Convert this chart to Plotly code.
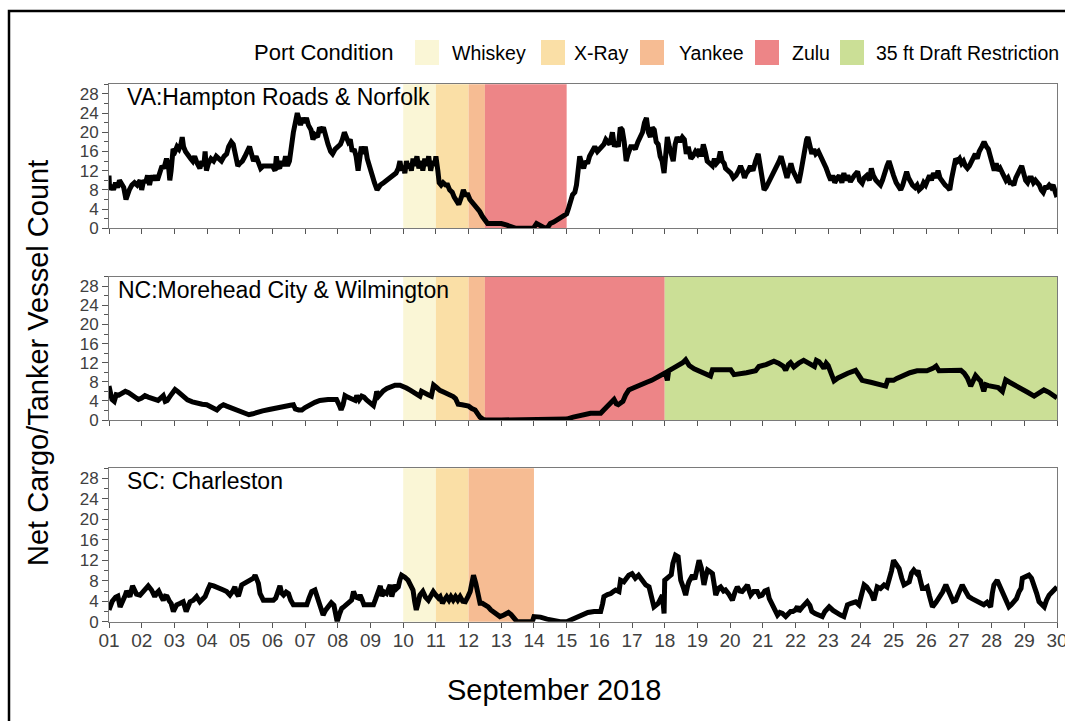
import plotly.graph_objects as go

# ---------------------------------------------------------------------------
# Net cargo/tanker vessel counts, September 2018 (day-of-month, vessel count)
# ---------------------------------------------------------------------------
va_day = [1.00, 1.02, 1.08, 1.14, 1.20, 1.26, 1.32, 1.38, 1.45, 1.52, 1.56, 1.62, 1.70, 1.78, 1.86, 1.95,
          2.00, 2.06, 2.12, 2.18, 2.24, 2.30, 2.36, 2.42, 2.48, 2.56, 2.62, 2.68, 2.76, 2.82, 2.86, 2.90,
          2.96, 3.02, 3.08, 3.14, 3.20, 3.24, 3.28, 3.34, 3.42, 3.50, 3.56, 3.62, 3.70, 3.78, 3.84, 3.90,
          3.94, 3.98, 4.04, 4.12, 4.20, 4.28, 4.36, 4.44, 4.52, 4.60, 4.66, 4.74, 4.80, 4.86, 4.94, 5.00,
          5.08, 5.16, 5.24, 5.30, 5.36, 5.42, 5.50, 5.58, 5.64, 5.72, 5.80, 5.90, 6.00, 6.08, 6.12, 6.16,
          6.22, 6.28, 6.34, 6.40, 6.46, 6.52, 6.58, 6.64, 6.70, 6.76, 6.80, 6.86, 6.92, 6.98, 7.04, 7.10,
          7.18, 7.24, 7.30, 7.38, 7.44, 7.50, 7.56, 7.62, 7.70, 7.78, 7.84, 7.92, 8.00, 8.08, 8.14, 8.20,
          8.26, 8.32, 8.38, 8.44, 8.50, 8.56, 8.62, 8.66, 8.72, 8.78, 8.84, 8.90, 8.96, 9.04, 9.12, 9.20,
          9.30, 9.40, 9.50, 9.60, 9.70, 9.78, 9.85, 9.90, 9.95, 10.00, 10.05, 10.10, 10.15, 10.20, 10.25,
          10.30, 10.35, 10.42, 10.48, 10.55, 10.60, 10.66, 10.72, 10.78, 10.84, 10.90, 10.96, 11.00, 11.06,
          11.10, 11.16, 11.22, 11.30, 11.36, 11.42, 11.50, 11.56, 11.62, 11.70, 11.78, 11.84, 11.90, 11.98,
          12.04, 12.10, 12.18, 12.26, 12.34, 12.42, 12.50, 12.58, 12.70, 12.85, 13.00, 13.15, 13.30, 13.45,
          13.60, 13.80, 13.98, 14.08, 14.20, 14.30, 14.40, 14.50, 14.60, 14.70, 14.80, 14.90, 15.00, 15.05,
          15.12, 15.18, 15.25, 15.30, 15.35, 15.40, 15.46, 15.52, 15.58, 15.64, 15.70, 15.78, 15.86, 15.94,
          16.00, 16.06, 16.14, 16.20, 16.26, 16.32, 16.40, 16.46, 16.52, 16.58, 16.64, 16.70, 16.76, 16.82,
          16.88, 16.96, 17.04, 17.10, 17.18, 17.26, 17.32, 17.38, 17.44, 17.50, 17.56, 17.62, 17.68, 17.74,
          17.80, 17.86, 17.92, 17.98, 18.02, 18.08, 18.14, 18.20, 18.26, 18.32, 18.38, 18.46, 18.54, 18.60,
          18.66, 18.72, 18.80, 18.86, 18.94, 19.00, 19.06, 19.12, 19.18, 19.24, 19.30, 19.38, 19.46, 19.52,
          19.58, 19.64, 19.70, 19.76, 19.82, 19.86, 19.94, 20.02, 20.10, 20.18, 20.26, 20.32, 20.38, 20.44,
          20.50, 20.56, 20.62, 20.70, 20.78, 20.86, 20.92, 20.98, 21.04, 21.10, 21.18, 21.26, 21.34, 21.42,
          21.50, 21.56, 21.62, 21.68, 21.74, 21.80, 21.86, 21.92, 21.98, 22.04, 22.10, 22.16, 22.22, 22.28,
          22.34, 22.38, 22.44, 22.50, 22.56, 22.62, 22.70, 22.78, 22.86, 22.94, 23.02, 23.08, 23.14, 23.20,
          23.28, 23.34, 23.42, 23.48, 23.54, 23.60, 23.68, 23.74, 23.80, 23.90, 23.96, 24.04, 24.10, 24.18,
          24.26, 24.32, 24.38, 24.46, 24.54, 24.60, 24.66, 24.74, 24.80, 24.86, 24.92, 25.00, 25.08, 25.16,
          25.22, 25.28, 25.34, 25.40, 25.46, 25.52, 25.58, 25.66, 25.72, 25.78, 25.86, 25.92, 25.98, 26.04,
          26.10, 26.16, 26.22, 26.30, 26.36, 26.42, 26.50, 26.58, 26.66, 26.72, 26.78, 26.84, 26.90, 26.96,
          27.02, 27.08, 27.14, 27.20, 27.26, 27.32, 27.38, 27.44, 27.50, 27.56, 27.62, 27.70, 27.77, 27.84,
          27.90, 27.96, 28.02, 28.08, 28.14, 28.20, 28.26, 28.32, 28.38, 28.44, 28.50, 28.56, 28.62, 28.68,
          28.74, 28.80, 28.86, 28.92, 28.98, 29.04, 29.10, 29.16, 29.22, 29.28, 29.34, 29.40, 29.46, 29.52,
          29.58, 29.64, 29.70, 29.76, 29.82, 29.88, 29.94, 30.00]
va_count = [11, 8, 9, 8, 9.5, 8.5, 10, 9, 8.5, 6, 7, 8, 9, 9.5, 9, 10,
            8, 10, 9.5, 11, 9, 11, 10, 11, 10, 12, 13, 12.5, 14.5, 13, 10, 12,
            16.5, 16, 17, 16.5, 17.5, 19, 17, 16, 15, 14.5, 14, 15, 13.5, 12.5, 14, 13,
            16, 12, 13.5, 14.5, 14, 15, 14.5, 14, 15, 15.5, 17, 18, 17.5, 15, 13, 13.5,
            14, 15, 16, 17, 15.5, 14, 15, 13.5, 12.5, 13, 13, 13, 13, 12, 15, 13,
            12.5, 14, 13, 15, 13, 14, 18, 20, 22, 24, 23, 21.5, 23, 22, 23, 21.5,
            20.5, 18.5, 19.5, 19, 21, 20.5, 21, 19, 17.5, 16, 15.5, 16.5, 17, 17.5, 18.5, 20,
            19, 18, 18.5, 16, 16.5, 15, 12, 15, 17, 15.5, 17, 14.5, 13, 11, 9.5, 8,
            9, 9.5, 10, 10.5, 11, 11.5, 12.5, 14, 12, 13, 11.5, 14, 12.5, 13.5, 12,
            14.5, 13, 15, 12.5, 14, 12, 14.5, 13, 15, 12, 14, 13, 15, 12,
            9.5, 9, 9.5, 9, 9, 8, 7.5, 6.5, 6, 5, 6.5, 8, 7, 7,
            6, 5.5, 5, 4.5, 3.5, 2.5, 1.5, 1, 1, 1, 1, 0.7, 0.3, 0,
            0, 0, 0, 1, 0.5, 0.2, 0, 1, 1.3, 1.7, 2.2, 2.5, 3, 4,
            5.5, 7, 7.5, 9, 12, 15, 13.5, 12.5, 14, 13.5, 15, 16, 17, 16,
            16.5, 17, 17.5, 18.5, 18, 17.5, 20, 17, 18, 17, 21, 20.5, 18, 14,
            15.5, 17, 17, 16.5, 18, 19, 20, 22, 23, 20, 19, 21, 20.5, 18,
            17.5, 15, 14, 11.5, 16, 19, 17, 15, 14, 17.5, 19, 18, 19, 18.5,
            15.5, 17, 14.5, 15, 16, 15.5, 16.5, 15, 17.5, 16, 14, 13.5, 13, 14.5,
            13.5, 14, 16, 14, 13.5, 12.5, 12, 11.5, 10.5, 11, 12, 13, 12, 10.5,
            11.5, 12, 13, 12, 14, 15.5, 13, 10.5, 8, 8.5, 9.5, 10.5, 11.5, 13,
            14, 15, 13.5, 12, 10.5, 12, 13.5, 12, 11, 10.5, 9.5, 11.5, 14, 16,
            18.5, 19, 17, 15.5, 16.5, 15.5, 16, 15, 14, 12.5, 11, 10, 11, 9.5,
            10.5, 11, 9.5, 11.5, 10, 11, 9.7, 10.5, 11, 11.8, 10, 9.4, 10.5, 11,
            10, 12.5, 11, 10, 9.5, 9, 10, 12, 13, 14, 12.5, 11, 9.5, 8.5,
            8, 9, 10.5, 11.8, 10.5, 9.5, 9, 8.5, 9, 8, 8.5, 9.5, 9, 10,
            11, 10, 11.5, 10.5, 12, 10.5, 9.5, 9, 8.5, 8, 10.5, 13, 14.5, 14,
            14.5, 13.5, 14, 13, 12.5, 13, 14, 15, 15.5, 14.5, 16, 17, 18, 17,
            16.5, 15, 13.5, 12, 13.5, 12, 12.5, 11.5, 11, 10, 10.5, 9.5, 9.5, 9,
            10.5, 11.5, 12.5, 13, 11.5, 10, 9.5, 10.5, 10.5, 9.5, 10, 9.5, 9, 8,
            7.5, 8.5, 8.5, 9, 8.5, 9, 8, 6.5]

nc_day = [1.00, 1.05, 1.09, 1.16, 1.22, 1.30, 1.40, 1.50, 1.60, 1.74, 1.90, 2.00, 2.10, 2.20, 2.30,
          2.40, 2.50, 2.58, 2.66, 2.72, 2.78, 2.87, 2.95, 3.02, 3.10, 3.20, 3.30, 3.40, 3.55, 3.70,
          3.85, 3.99, 4.10, 4.20, 4.30, 4.40, 4.50, 4.60, 4.75, 4.90, 5.05, 5.20, 5.28, 5.40, 5.55,
          5.70, 5.90, 6.10, 6.23, 6.40, 6.55, 6.64, 6.70, 6.80, 6.90, 7.00, 7.15, 7.30, 7.45, 7.56,
          7.70, 7.85, 7.96, 8.05, 8.10, 8.16, 8.22, 8.30, 8.37, 8.45, 8.53, 8.58, 8.65, 8.73, 8.80,
          8.88, 8.96, 9.04, 9.09, 9.15, 9.19, 9.25, 9.32, 9.39, 9.50, 9.60, 9.75, 9.90, 10.00, 10.10,
          10.20, 10.30, 10.41, 10.51, 10.56, 10.65, 10.76, 10.86, 10.93, 11.02, 11.12, 11.25, 11.40,
          11.53, 11.60, 11.68, 11.80, 11.90, 12.00, 12.10, 12.20, 12.28, 12.35, 12.45, 12.52, 13.00,
          13.50, 14.00, 14.50, 14.90, 15.00, 15.20, 15.40, 15.55, 15.73, 15.90, 16.04, 16.12, 16.20,
          16.30, 16.40, 16.45, 16.52, 16.58, 16.66, 16.72, 16.80, 16.90, 17.00, 17.15, 17.30, 17.45,
          17.60, 17.75, 17.88, 17.95, 18.02, 18.08, 18.12, 18.25, 18.44, 18.55, 18.64, 18.75, 18.90,
          19.10, 19.30, 19.40, 19.46, 19.70, 20.02, 20.12, 20.30, 20.50, 20.78, 20.88, 21.10, 21.34,
          21.48, 21.62, 21.70, 21.78, 21.85, 21.95, 22.10, 22.25, 22.40, 22.50, 22.58, 22.64, 22.72,
          22.80, 22.87, 22.94, 23.00, 23.10, 23.18, 23.30, 23.43, 23.60, 23.84, 23.94, 24.04, 24.30,
          24.55, 24.76, 24.82, 25.00, 25.10, 25.27, 25.50, 25.72, 26.02, 26.20, 26.30, 26.39, 26.70,
          27.06, 27.16, 27.26, 27.36, 27.46, 27.51, 27.60, 27.66, 27.76, 27.82, 27.90, 28.07, 28.20,
          28.33, 28.43, 28.55, 28.70, 28.90, 29.10, 29.30, 29.45, 29.60, 29.75, 29.90, 30.00]
nc_count = [7.1, 5.5, 4.3, 3.9, 5.3, 5.2, 5.6, 6.0, 5.7, 5.0, 4.3, 4.6, 5.1, 4.8, 4.6,
            4.3, 4.1, 4.6, 5.1, 3.9, 4.1, 5.0, 5.6, 6.4, 6.0, 5.5, 4.8, 4.2, 3.8, 3.5,
            3.3, 3.2, 2.9, 2.5, 2.1, 2.8, 3.2, 2.9, 2.5, 2.1, 1.7, 1.3, 1.1, 1.3, 1.7,
            1.9, 2.2, 2.4, 2.6, 2.9, 3.1, 3.2, 2.3, 2.1, 2.1, 2.6, 3.2, 3.7, 4.1, 4.3,
            4.3, 4.3, 4.3, 3.0, 2.1, 3.2, 5.1, 4.8, 4.6, 4.1, 4.1, 5.1, 4.2, 5.0, 4.8,
            4.2, 3.8, 3.4, 3.0, 4.5, 6.0, 5.0, 5.8, 6.1, 6.6, 7.0, 7.3, 7.3, 7.1, 6.7,
            6.3, 5.9, 5.6, 5.0, 6.0, 5.8, 5.3, 5.0, 7.3, 6.8, 6.2, 5.8, 5.4,
            4.9, 4.5, 3.3, 3.2, 3.1, 2.9, 2.4, 2.1, 1.3, 0.6, 0.1, 0, 0,
            0, 0, 0, 0, 0.2, 0.6, 1.0, 1.3, 1.4, 1.4, 1.4, 2.0, 2.6,
            3.2, 3.9, 4.3, 3.4, 3.2, 3.6, 3.9, 5.2, 6.3, 6.6, 7.1, 7.5, 7.9,
            8.3, 8.8, 9.3, 9.6, 9.9, 8.3, 10.3, 10.8, 11.5, 12.0, 12.6, 11.4, 10.7,
            10.2, 9.6, 9.2, 10.5, 10.5, 10.5, 9.5, 9.6, 9.9, 10.3, 11.2, 11.6, 12.3,
            11.9, 11.3, 10.4, 11.6, 12.0, 11.1, 11.9, 12.5, 11.9, 11.5, 11.2, 12.5, 12.2,
            11.5, 10.8, 11.9, 11.4, 9.6, 8.2, 8.8, 9.3, 9.8, 10.4, 9.2, 8.3, 7.9,
            7.5, 7.1, 8.3, 8.3, 8.7, 9.3, 9.9, 10.3, 10.3, 10.8, 11.3, 10.3, 10.3,
            10.4, 9.8, 8.8, 7.1, 8.9, 9.3, 8.6, 8.2, 6.0, 7.4, 7.2, 7.1, 6.8,
            6.0, 8.4, 7.9, 7.4, 6.6, 5.8, 5.0, 5.7, 6.3, 5.8, 5.2, 4.6]

sc_day = [1.00, 1.05, 1.10, 1.20, 1.27, 1.34, 1.40, 1.45, 1.50, 1.54, 1.60, 1.64, 1.72, 1.78, 1.84,
          1.95, 2.05, 2.12, 2.20, 2.30, 2.40, 2.46, 2.52, 2.60, 2.66, 2.72, 2.78, 2.85, 2.90, 2.97,
          3.07, 3.18, 3.27, 3.36, 3.42, 3.48, 3.58, 3.68, 3.78, 3.86, 3.94, 4.02, 4.09, 4.20, 4.30,
          4.40, 4.50, 4.60, 4.70, 4.78, 4.85, 4.90, 4.96, 5.06, 5.15, 5.25, 5.35, 5.42, 5.47, 5.53,
          5.57, 5.62, 5.72, 5.85, 6.03, 6.10, 6.13, 6.20, 6.23, 6.28, 6.34, 6.42, 6.49, 6.56, 6.64,
          6.80, 6.95, 7.05, 7.12, 7.20, 7.30, 7.36, 7.45, 7.50, 7.55, 7.62, 7.70, 7.80, 7.88, 7.96,
          7.98, 8.05, 8.12, 8.20, 8.30, 8.36, 8.42, 8.48, 8.55, 8.63, 8.68, 8.73, 8.80, 8.90, 9.00,
          9.09, 9.15, 9.20, 9.25, 9.30, 9.35, 9.42, 9.49, 9.54, 9.60, 9.65, 9.70, 9.75, 9.80, 9.85,
          9.90, 9.95, 10.05, 10.15, 10.22, 10.30, 10.35, 10.40, 10.45, 10.51, 10.60, 10.68, 10.77,
          10.85, 10.92, 11.00, 11.08, 11.13, 11.20, 11.25, 11.33, 11.40, 11.46, 11.53, 11.60, 11.67,
          11.74, 11.82, 11.90, 11.98, 12.05, 12.10, 12.15, 12.22, 12.30, 12.35, 12.42, 12.50, 12.60,
          12.68, 12.76, 12.85, 12.96, 13.08, 13.22, 13.30, 13.37, 13.48, 13.70, 13.95, 14.00, 14.20,
          14.40, 14.60, 14.80, 15.00, 15.20, 15.43, 15.65, 15.84, 16.04, 16.10, 16.14, 16.25, 16.35,
          16.45, 16.50, 16.60, 16.65, 16.75, 16.82, 16.90, 17.00, 17.10, 17.20, 17.30, 17.42, 17.52,
          17.60, 17.67, 17.80, 17.93, 17.98, 18.00, 18.13, 18.20, 18.25, 18.33, 18.41, 18.49, 18.58,
          18.64, 18.70, 18.74, 18.85, 18.92, 18.98, 19.05, 19.12, 19.20, 19.26, 19.31, 19.40, 19.46,
          19.52, 19.56, 19.64, 19.71, 19.80, 19.86, 19.95, 20.07, 20.15, 20.22, 20.30, 20.37, 20.45,
          20.53, 20.60, 20.63, 20.72, 20.83, 20.90, 20.98, 21.06, 21.14, 21.20, 21.29, 21.36, 21.45,
          21.52, 21.60, 21.70, 21.78, 21.85, 21.92, 22.00, 22.06, 22.10, 22.20, 22.36, 22.44, 22.50,
          22.60, 22.70, 22.82, 22.90, 23.03, 23.15, 23.28, 23.38, 23.48, 23.54, 23.59, 23.70, 23.84,
          23.94, 24.00, 24.10, 24.18, 24.25, 24.32, 24.40, 24.46, 24.50, 24.60, 24.71, 24.80, 24.86,
          24.94, 25.00, 25.08, 25.17, 25.25, 25.32, 25.40, 25.48, 25.55, 25.62, 25.70, 25.75, 25.78,
          25.85, 25.88, 25.95, 26.03, 26.10, 26.19, 26.30, 26.39, 26.50, 26.60, 26.68, 26.75, 26.82,
          26.90, 27.00, 27.10, 27.20, 27.30, 27.40, 27.56, 27.66, 27.76, 27.86, 27.92, 27.97, 28.02,
          28.07, 28.17, 28.25, 28.33, 28.43, 28.53, 28.60, 28.69, 28.76, 28.84, 28.90, 28.94, 29.05,
          29.14, 29.22, 29.30, 29.38, 29.45, 29.53, 29.61, 29.68, 29.76, 29.88, 30.00]
sc_count = [2.3, 3.5, 4.0, 4.8, 5.0, 2.9, 3.6, 4.6, 5.2, 6.0, 5.0, 4.9, 7.0, 6.0, 5.4,
            5.2, 5.8, 6.4, 7.0, 6.2, 4.9, 5.6, 6.0, 4.9, 4.2, 5.0, 4.9, 4.0, 3.6, 2.0,
            3.3, 3.6, 3.9, 2.0, 3.2, 3.9, 4.2, 4.9, 3.9, 4.6, 4.9, 6.2, 7.2, 7.0, 6.8,
            6.5, 6.2, 5.9, 5.2, 5.9, 6.8, 5.6, 5.0, 7.2, 7.5, 7.9, 8.2, 8.5, 9.1, 8.0,
            7.5, 5.5, 4.2, 4.2, 4.2, 4.6, 5.2, 6.5, 7.0, 5.6, 5.2, 5.8, 5.5, 4.2, 3.3,
            3.3, 3.3, 3.3, 4.6, 5.9, 6.2, 5.0, 2.9, 1.8, 1.3, 2.2, 3.0, 3.7, 3.2, 1.0,
            0, 1.5, 2.6, 3.0, 3.6, 3.9, 4.2, 5.9, 4.8, 4.6, 5.2, 4.5, 3.3, 3.3, 3.3,
            3.3, 4.3, 5.2, 6.8, 7.0, 5.0, 5.8, 5.5, 6.2, 7.2, 4.9, 6.0, 7.2, 6.5, 6.8,
            8.2, 9.1, 8.7, 8.1, 7.2, 6.2, 4.0, 2.3, 3.5, 5.2, 5.9, 4.8, 4.2,
            5.0, 5.9, 5.2, 4.6, 4.9, 3.6, 4.2, 4.9, 4.2, 4.9, 4.2, 4.9, 4.2,
            4.9, 4.0, 3.9, 4.9, 5.9, 7.5, 9.1, 7.5, 5.5, 3.6, 3.6, 3.3, 2.9,
            2.3, 2.0, 1.5, 1.0, 1.3, 1.8, 1.4, 0.7, 0, 0, 0, 1.0, 0.9,
            0.5, 0.2, 0, 0, 0.5, 1.0, 1.8, 2.0, 2.0, 3.5, 4.9, 5.3, 5.5,
            6.0, 6.2, 5.9, 8.1, 7.8, 8.6, 9.1, 9.4, 8.5, 9.1, 8.3, 7.2, 6.8,
            5.0, 2.9, 3.6, 5.2, 1.6, 8.1, 8.8, 9.2, 11.4, 13.0, 12.7, 8.1, 6.5,
            5.2, 7.0, 7.8, 9.1, 8.3, 10.0, 12.0, 10.5, 7.2, 9.0, 10.1, 9.7, 9.4,
            7.0, 5.2, 6.5, 6.8, 6.0, 6.2, 5.5, 4.2, 5.8, 6.8, 6.0, 5.9, 6.5,
            7.2, 5.7, 5.2, 5.9, 5.9, 5.0, 5.2, 6.0, 6.2, 4.5, 3.3, 2.2, 1.3,
            1.8, 1.6, 1.0, 1.6, 2.0, 2.0, 2.3, 3.0, 2.0, 2.8, 3.9, 3.2, 2.0,
            1.6, 1.3, 1.0, 2.0, 2.9, 2.2, 1.6, 1.3, 1.0, 2.2, 3.3, 3.6, 3.9,
            3.3, 5.0, 7.2, 6.8, 6.2, 5.5, 4.2, 5.8, 6.8, 6.5, 7.2, 6.8, 8.1,
            10.0, 12.0, 11.2, 10.4, 8.5, 7.2, 7.5, 7.8, 9.5, 10.1, 9.5, 10.0, 9.1,
            6.8, 6.5, 6.5, 6.8, 5.0, 2.9, 3.8, 4.6, 5.8, 7.2, 6.0, 5.2, 4.0,
            4.2, 5.5, 7.2, 6.0, 4.9, 4.5, 3.9, 3.5, 3.3, 3.8, 3.0, 2.9, 5.5,
            7.2, 8.1, 7.0, 5.9, 4.0, 2.9, 3.3, 3.9, 4.5, 5.9, 6.5, 8.5, 8.8,
            9.1, 8.5, 7.2, 5.5, 3.9, 3.3, 2.9, 4.2, 5.2, 6.0, 6.8]

# Port condition periods per region: (condition, start day, end day)
va_periods = [("Whiskey", 10.0, 11.0), ("X-Ray", 11.0, 12.0), ("Yankee", 12.0, 12.5), ("Zulu", 12.5, 15.0)]
nc_periods = [("Whiskey", 10.0, 11.0), ("X-Ray", 11.0, 12.0), ("Yankee", 12.0, 12.5), ("Zulu", 12.5, 18.0),
              ("35 ft Draft Restriction", 18.0, 30.0)]
sc_periods = [("Whiskey", 10.0, 11.0), ("X-Ray", 11.0, 12.0), ("Yankee", 12.0, 14.0)]

conditions = ["Whiskey", "X-Ray", "Yankee", "Zulu", "35 ft Draft Restriction"]
condition_colors = ["#FAF6D6", "#FADFA6", "#F6BC93", "#ED8587", "#CBDF96"]
color_of = dict(zip(conditions, condition_colors))

region_names = ["VA:Hampton Roads & Norfolk", "NC:Morehead City & Wilmington", "SC: Charleston"]
day_ticks = list(range(1, 31))
day_labels = [f"{d:02d}" for d in day_ticks]
count_ticks = list(range(0, 29, 4))

# ---------------------------------------------------------------------------
W, H = 1065, 721


def px(x):
    return x / W


def py(y):
    return 1 - y / H


TEXT_FONT = "Liberation Sans, Arial, sans-serif"
X_TICK_FONT = dict(family=TEXT_FONT, size=19, color="#404040")
Y_TICK_FONT = dict(family=TEXT_FONT, size=17, color="#404040")

x_domain = [px(109), px(1057)]
panel_px = [(84.3, 228.3), (276.7, 420.0), (468.3, 621.7)]
label_shift = [16, 7, 16]

fig = go.Figure()
series = [(va_day, va_count, va_periods), (nc_day, nc_count, nc_periods), (sc_day, sc_count, sc_periods)]

shapes = []
annotations = []
for i, (days, counts, periods) in enumerate(series):
    n = "" if i == 0 else str(i + 1)
    top, bottom = panel_px[i]
    fig.add_trace(go.Scatter(x=days, y=counts, mode="lines", xaxis="x" + n, yaxis="y" + n,
                             line=dict(color="black", width=5), showlegend=False, hoverinfo="skip"))
    for cond, start, end in periods:
        shapes.append(dict(type="rect", xref="x" + n, yref="y" + n + " domain", x0=start, x1=end, y0=0, y1=1,
                           fillcolor=color_of[cond], line=dict(width=0), layer="below"))
    annotations.append(dict(text=region_names[i], xref="x" + n + " domain", yref="y" + n + " domain",
                            x=0.0, y=1.0, xanchor="left", yanchor="top", xshift=label_shift[i], yshift=2,
                            showarrow=False, font=dict(family=TEXT_FONT, size=23, color="black")))
    fig.layout["xaxis" + n] = dict(
        domain=x_domain, anchor="y" + n, range=[1, 30], automargin=False, tickmode="array",
        tickvals=day_ticks, ticktext=day_labels, showticklabels=(i == 2), ticklabeloverflow="allow",
        ticks="outside", ticklen=5, tickcolor="#555555", ticklabelstandoff=-4,
        showline=True, mirror=True, linecolor="#7a7a7a", linewidth=1, showgrid=False, zeroline=False,
        tickfont=X_TICK_FONT, fixedrange=True)
    fig.layout["yaxis" + n] = dict(
        domain=[py(bottom), py(top)], anchor="x" + n, range=[0, 30], automargin=False, tickmode="array",
        tickvals=count_ticks, ticks="outside", ticklen=6, tickcolor="#555555",
        minor=dict(dtick=2, tick0=0, ticks="outside", ticklen=4, tickcolor="#555555"),
        showline=True, mirror=True, linecolor="#7a7a7a", linewidth=1, showgrid=False, zeroline=False,
        tickfont=Y_TICK_FONT, fixedrange=True)

# Legend: title, swatches and labels across the top
annotations.append(dict(text="Port Condition", xref="paper", yref="paper", x=px(252), y=py(53),
                        xanchor="left", yanchor="middle", showarrow=False,
                        font=dict(family=TEXT_FONT, size=22, color="black")))
swatch_x = [415, 541, 640, 755, 840]
label_x = [450, 572, 677, 790, 874]
for cond, sx, lx in zip(conditions, swatch_x, label_x):
    shapes.append(dict(type="rect", xref="paper", yref="paper", x0=px(sx), x1=px(sx + 24),
                       y0=py(65), y1=py(40), fillcolor=color_of[cond], line=dict(width=0)))
    annotations.append(dict(text=cond, xref="paper", yref="paper", x=px(lx), y=py(53),
                            xanchor="left", yanchor="middle", showarrow=False,
                            font=dict(family=TEXT_FONT, size=19.5, color="black")))

# Axis titles
annotations.append(dict(text="Net Cargo/Tanker Vessel Count", xref="paper", yref="paper", x=px(38), y=py(363),
                        xanchor="center", yanchor="middle", textangle=-90, showarrow=False,
                        font=dict(family=TEXT_FONT, size=29, color="black")))
annotations.append(dict(text="September 2018", xref="paper", yref="paper", x=px(554), y=py(690),
                        xanchor="center", yanchor="middle", showarrow=False,
                        font=dict(family=TEXT_FONT, size=29, color="black")))

# Outer frame
shapes.append(dict(type="rect", xref="paper", yref="paper", x0=px(9), x1=1.05, y0=-0.05, y1=py(11),
                   line=dict(color="black", width=2.5), fillcolor="rgba(0,0,0,0)"))

fig.update_layout(width=W, height=H, margin=dict(l=0, r=0, t=0, b=0, autoexpand=False),
                  paper_bgcolor="white", plot_bgcolor="white", shapes=shapes, annotations=annotations,
                  showlegend=False)

fig.write_html("out.html", config={"displayModeBar": False})
